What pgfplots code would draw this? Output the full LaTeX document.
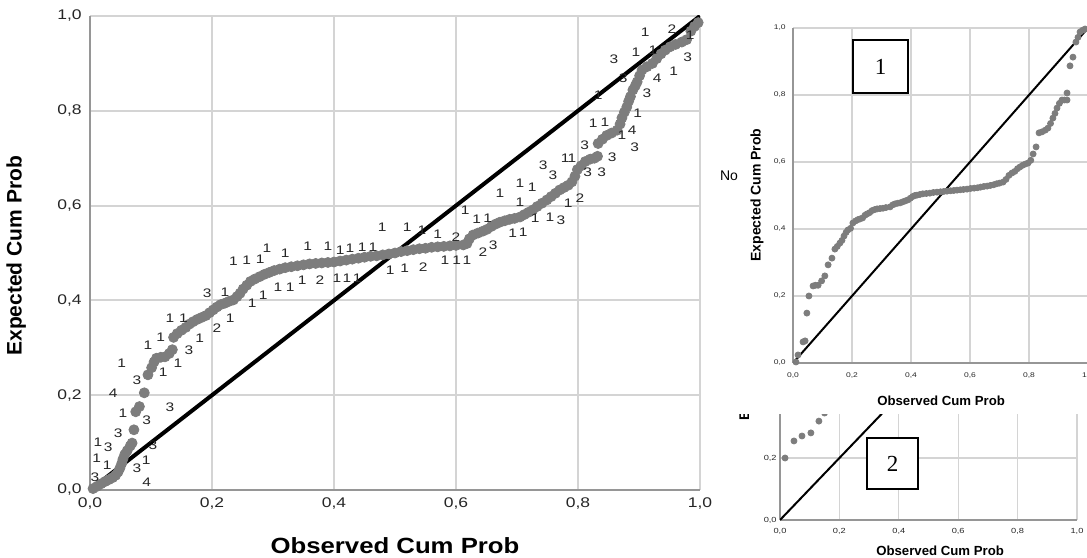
\documentclass[border=0pt]{standalone}
\usepackage{graphicx}
\usepackage{fontspec}
\setmainfont{Liberation Sans}
\newfontfamily\boxfont{Liberation Serif}
\usepackage{pgfplots}
\pgfplotsset{compat=1.18}

\definecolor{dotgray}{RGB}{125,125,125}
\definecolor{gridgray}{RGB}{212,212,212}
\definecolor{axisgray}{RGB}{150,150,150}

% tick labels in the screenshot are a bit wide
\newcommand\stl[1]{\scalebox{1.25}[1]{#1}}

\pgfplotsset{
  ppstyle/.style={
    scale only axis, xmin=0, xmax=1, ymin=0, ymax=1,
    axis x line*=bottom, axis y line*=left,
    axis line style={-, draw=axisgray},
    grid=major, major grid style={draw=gridgray},
    major tick length=0pt,
    xtick={0,0.2,0.4,0.6,0.8,1}, ytick={0,0.2,0.4,0.6,0.8,1},
    xticklabels={\stl{0,0},\stl{0,2},\stl{0,4},\stl{0,6},\stl{0,8},\stl{1,0}},
    yticklabels={\stl{0,0},\stl{0,2},\stl{0,4},\stl{0,6},\stl{0,8},\stl{1,0}},
    tick label style={text=black!85},
    yticklabel style={inner sep=0pt, anchor=east},
    xticklabel style={inner sep=0pt, anchor=north},
  },
}

\pgfplotstableread{
x y
0.005 0.003
0.012 0.008
0.018 0.013
0.025 0.018
0.031 0.022
0.037 0.026
0.042 0.031
0.046 0.038
0.049 0.046
0.052 0.056
0.054 0.065
0.057 0.075
0.061 0.083
0.066 0.093
0.069 0.099
0.072 0.127
0.075 0.165
0.081 0.176
0.089 0.205
0.095 0.243
0.101 0.258
0.105 0.270
0.109 0.278
0.116 0.280
0.123 0.281
0.130 0.288
0.135 0.296
0.137 0.322
0.143 0.330
0.150 0.337
0.157 0.343
0.163 0.350
0.169 0.355
0.176 0.360
0.183 0.364
0.190 0.368
0.196 0.374
0.202 0.380
0.208 0.386
0.214 0.391
0.221 0.394
0.228 0.398
0.235 0.401
0.241 0.408
0.246 0.415
0.251 0.424
0.257 0.432
0.263 0.440
0.270 0.445
0.278 0.450
0.286 0.455
0.294 0.459
0.302 0.463
0.311 0.466
0.320 0.469
0.330 0.471
0.340 0.473
0.350 0.475
0.360 0.477
0.370 0.478
0.380 0.479
0.390 0.480
0.400 0.481
0.410 0.483
0.420 0.485
0.430 0.487
0.440 0.489
0.450 0.491
0.460 0.493
0.470 0.494
0.480 0.496
0.490 0.498
0.500 0.500
0.510 0.503
0.520 0.505
0.530 0.507
0.540 0.509
0.550 0.510
0.560 0.512
0.570 0.513
0.580 0.514
0.590 0.515
0.600 0.516
0.612 0.517
0.618 0.520
0.622 0.530
0.628 0.538
0.636 0.542
0.644 0.546
0.651 0.550
0.658 0.556
0.665 0.561
0.672 0.565
0.680 0.568
0.688 0.571
0.696 0.573
0.705 0.576
0.712 0.581
0.719 0.586
0.726 0.591
0.733 0.598
0.741 0.605
0.749 0.612
0.756 0.619
0.763 0.626
0.770 0.633
0.777 0.638
0.784 0.643
0.790 0.650
0.795 0.662
0.799 0.676
0.805 0.684
0.812 0.693
0.820 0.698
0.827 0.700
0.832 0.704
0.833 0.731
0.840 0.740
0.847 0.748
0.855 0.753
0.864 0.759
0.869 0.772
0.872 0.785
0.876 0.797
0.880 0.808
0.883 0.820
0.886 0.830
0.890 0.844
0.894 0.853
0.897 0.861
0.901 0.874
0.905 0.886
0.913 0.893
0.922 0.900
0.929 0.910
0.936 0.920
0.943 0.928
0.951 0.935
0.960 0.940
0.970 0.945
0.978 0.950
0.985 0.968
0.991 0.978
0.997 0.986
}\maindots

\pgfplotstableread{
x y l
0.910 0.966 1
0.954 0.972 2
0.984 0.960 1
0.859 0.909 3
0.895 0.924 1
0.923 0.928 1
0.980 0.914 3
0.874 0.869 3
0.930 0.869 4
0.957 0.884 1
0.833 0.833 1
0.913 0.838 3
0.898 0.795 1
0.825 0.774 1
0.844 0.776 1
0.872 0.749 1
0.889 0.759 4
0.811 0.728 3
0.893 0.724 3
0.743 0.686 3
0.779 0.700 1
0.790 0.700 1
0.856 0.703 3
0.759 0.665 3
0.816 0.671 3
0.839 0.671 3
0.705 0.648 1
0.725 0.639 1
0.672 0.627 1
0.705 0.608 1
0.784 0.606 1
0.803 0.616 2
0.615 0.591 1
0.634 0.572 1
0.652 0.574 1
0.730 0.574 1
0.754 0.576 1
0.772 0.570 3
0.693 0.542 1
0.710 0.544 1
0.479 0.555 1
0.520 0.555 1
0.544 0.549 1
0.570 0.540 1
0.600 0.534 2
0.644 0.502 2
0.661 0.517 3
0.582 0.485 1
0.601 0.485 1
0.618 0.485 1
0.546 0.470 2
0.492 0.464 1
0.516 0.468 1
0.446 0.512 1
0.464 0.512 1
0.290 0.511 1
0.320 0.500 1
0.235 0.482 1
0.257 0.484 1
0.279 0.486 1
0.357 0.515 1
0.390 0.515 1
0.410 0.505 1
0.426 0.510 1
0.308 0.428 1
0.328 0.428 1
0.348 0.443 1
0.377 0.443 2
0.405 0.447 1
0.421 0.447 1
0.438 0.447 1
0.192 0.415 3
0.221 0.418 1
0.266 0.394 1
0.284 0.411 1
0.131 0.363 1
0.153 0.363 1
0.208 0.342 2
0.230 0.363 1
0.095 0.306 1
0.116 0.323 1
0.162 0.295 3
0.180 0.321 1
0.052 0.268 1
0.120 0.249 1
0.144 0.268 1
0.077 0.232 3
0.038 0.205 4
0.131 0.175 3
0.054 0.162 1
0.093 0.148 3
0.046 0.120 3
0.013 0.101 1
0.030 0.091 3
0.103 0.095 3
0.011 0.068 1
0.028 0.053 1
0.077 0.046 3
0.092 0.063 1
0.008 0.027 3
0.093 0.017 4
}\mainlabels

\pgfplotstableread{
x y
0.010 0.003
0.017 0.024
0.034 0.063
0.041 0.066
0.047 0.149
0.054 0.200
0.068 0.230
0.076 0.232
0.085 0.232
0.097 0.245
0.108 0.260
0.119 0.293
0.132 0.313
0.142 0.340
0.150 0.348
0.159 0.358
0.166 0.366
0.173 0.379
0.180 0.390
0.186 0.397
0.195 0.402
0.203 0.418
0.212 0.424
0.220 0.428
0.227 0.430
0.236 0.433
0.244 0.441
0.251 0.445
0.260 0.449
0.268 0.455
0.277 0.458
0.285 0.460
0.295 0.461
0.305 0.462
0.315 0.464
0.329 0.466
0.338 0.472
0.346 0.475
0.355 0.477
0.363 0.478
0.372 0.481
0.381 0.484
0.390 0.487
0.398 0.492
0.406 0.497
0.413 0.500
0.420 0.501
0.430 0.503
0.440 0.505
0.452 0.506
0.464 0.507
0.476 0.509
0.488 0.510
0.500 0.511
0.511 0.512
0.522 0.513
0.534 0.514
0.545 0.515
0.556 0.516
0.567 0.517
0.578 0.518
0.590 0.519
0.602 0.521
0.614 0.522
0.625 0.523
0.636 0.525
0.647 0.527
0.658 0.528
0.669 0.530
0.680 0.532
0.690 0.535
0.700 0.537
0.712 0.540
0.722 0.548
0.732 0.560
0.742 0.567
0.752 0.572
0.761 0.580
0.769 0.585
0.778 0.590
0.788 0.594
0.797 0.597
0.806 0.605
0.814 0.624
0.824 0.645
0.834 0.687
0.844 0.690
0.855 0.695
0.864 0.701
0.873 0.715
0.881 0.731
0.888 0.745
0.895 0.761
0.903 0.775
0.912 0.785
0.920 0.785
0.929 0.785
0.929 0.806
0.939 0.887
0.949 0.913
0.959 0.958
0.966 0.972
0.973 0.988
0.981 0.993
0.990 0.997
}\panelone

\pgfplotstableread{
x y
0.017 0.200
0.047 0.255
0.074 0.271
0.104 0.281
0.131 0.319
0.150 0.345
0.165 0.362
}\paneltwo

\begin{document}
\begin{tikzpicture}
\useasboundingbox (0,0) rectangle (543.5pt,278.5pt);

% main P-P plot
\begin{axis}[ppstyle,
  at={(45pt,33.5pt)}, anchor=south west, width=305pt, height=237pt,
  axis line style={line width=1pt},
  major grid style={line width=1pt},
  tick label style={font=\fontsize{7}{8}\selectfont},
  yticklabel style={xshift=-4pt},
  xticklabel style={yshift=-3.5pt},
  xlabel={\scalebox{1.17}[1]{Observed Cum Prob}},
  ylabel={Expected Cum Prob},
  xlabel style={at={(axis description cs:0.5,-0.118)}, anchor=center,
    font=\bfseries\fontsize{11}{12}\selectfont},
  ylabel style={at={(axis description cs:-0.121,0.494)}, anchor=center,
    font=\bfseries\fontsize{10.5}{12}\selectfont},
]
\addplot[only marks, mark=*, mark size=2.5pt, color=dotgray] table[x=x,y=y] {\maindots};
\addplot[only marks, mark=none, point meta=explicit symbolic,
  nodes near coords={\stl{\pgfplotspointmeta}},
  nodes near coords style={anchor=center, inner sep=0pt,
    font=\fontsize{6.2}{7}\selectfont, text=black!85}]
  table[x=x,y=y,meta=l] {\mainlabels};
\addplot[black, line width=2pt] coordinates {(0,0) (1,1)};
\end{axis}

% right panel 1
\begin{axis}[ppstyle,
  at={(396.5pt,97pt)}, anchor=south west, width=147.5pt, height=167.5pt,
  axis line style={line width=0.7pt},
  major grid style={line width=0.6pt},
  tick label style={font=\fontsize{3.4}{4}\selectfont},
  yticklabel style={xshift=-3.5pt},
  xticklabel style={yshift=-4.5pt},
  xlabel={Observed Cum Prob},
  ylabel={Expected Cum Prob},
  xlabel style={at={(axis description cs:0.502,-0.113)}, anchor=center,
    font=\bfseries\fontsize{6.6}{7}\selectfont},
  ylabel style={at={(axis description cs:-0.122,0.501)}, anchor=center,
    font=\bfseries\fontsize{7}{8}\selectfont},
]
\addplot[only marks, mark=*, mark size=1.5pt, color=dotgray] table[x=x,y=y] {\panelone};
\addplot[black, line width=1pt] coordinates {(0,0) (1,1)};
\node[draw=black, line width=1pt, fill=white, minimum width=27.5pt,
  minimum height=26.5pt, inner sep=0pt,
  font=\boxfont\fontsize{11.5}{12}\selectfont] at (axis cs:0.297,0.885) {1};
\end{axis}
\node[font=\fontsize{7}{8}\selectfont] at (364.5pt,190.5pt) {No};

% lower panel 2, cut off at the top
\begin{scope}
\clip (360pt,0pt) rectangle (543.5pt,71pt);
\begin{axis}[ppstyle,
  at={(390pt,18.5pt)}, anchor=south west, width=148.5pt, height=155pt,
  axis line style={line width=0.7pt},
  major grid style={line width=0.6pt},
  tick label style={font=\fontsize{3.7}{4}\selectfont},
  yticklabel style={xshift=-1.5pt},
  xticklabel style={yshift=-3.8pt},
  xlabel={Observed Cum Prob},
  ylabel={Expected Cum Prob},
  xlabel style={at={(axis description cs:0.539,-0.1)}, anchor=center,
    font=\bfseries\fontsize{6.6}{7}\selectfont},
  ylabel style={at={(axis description cs:-0.116,0.297)}, anchor=west,
    font=\bfseries\fontsize{7}{8}\selectfont},
]
\addplot[only marks, mark=*, mark size=1.5pt, color=dotgray] table[x=x,y=y] {\paneltwo};
\addplot[black, line width=1pt] coordinates {(0,0) (1,1)};
\node[draw=black, line width=1pt, fill=white, minimum width=25.5pt,
  minimum height=25.5pt, inner sep=0pt,
  font=\boxfont\fontsize{11.5}{12}\selectfont] at (axis cs:0.379,0.182) {2};
\end{axis}
\end{scope}
\end{tikzpicture}
\end{document}
